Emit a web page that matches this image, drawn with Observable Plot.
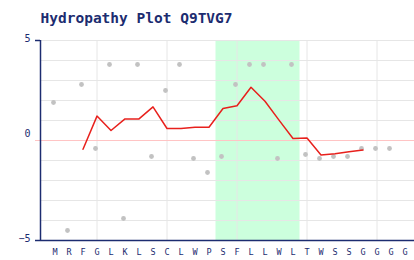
<!DOCTYPE html>
<html>
<head>
<meta charset="utf-8">
<script src="https://cdn.jsdelivr.net/npm/d3@7"></script>
<script src="https://cdn.jsdelivr.net/npm/@observablehq/plot@0.6"></script>
<style>
  html, body { margin: 0; padding: 0; background: #fff; }
</style>
</head>
<body>
<div id="chart"></div>
<script>
const title = "Hydropathy Plot Q9TVG7";
const residues = ["M","R","F","G","L","K","L","S","C","L","W","P","S","F","L","L","W","L","T","W","S","S","G","G","G","G"];
// per-residue hydropathy (grey dots), one per residue except the last
const hydropathy = [1.9,-4.5,2.8,-0.4,3.8,-3.9,3.8,-0.8,2.5,3.8,-0.9,-1.6,-0.8,2.8,3.8,3.8,-0.9,3.8,-0.7,-0.9,-0.8,-0.8,-0.4,-0.4,-0.4];
// window-averaged profile (red line), starting at residue index 2
const profileStart = 2;
const profile = [-0.44,1.22,0.5,1.08,1.08,1.68,0.6,0.6,0.66,0.66,1.6,1.74,2.66,1.96,1.02,0.1,0.12,-0.72,-0.66,-0.56,-0.48];
// highlighted segment (residue index range)
const bandStart = 11.5, bandEnd = 17.5;
const yTicks = [5, 0, -5];
const yGrid = [5,4,3,2,1,-1,-2,-3,-4];
const xGrid = [3,8,13,18,23];

const navy = "#1c2c70";
const xMin = -14.5/14, xMax = (414-54.5)/14;
const tickX1 = xMin - 5/14;

const dots = hydropathy.map((v,i)=>({i, v}));
const line = profile.map((v,k)=>({i: k+profileStart, v}));
const letters = residues.map((r,i)=>({i, r}));
const fmt = d => d < 0 ? "\u2212" + Math.abs(d) : String(d);
const tickFont = {textAnchor: "end", fill: navy, fontFamily: "DejaVu Sans Mono", fontSize: 10};

const plot = Plot.plot({
  width: 414, height: 260,
  marginLeft: 40, marginRight: 0, marginTop: 40, marginBottom: 20,
  x: {domain: [xMin, xMax], axis: null},
  y: {domain: [-5, 5], axis: null},
  style: {background: "#fff", overflow: "visible"},
  marks: [
    Plot.rect([{x1: bandStart, x2: bandEnd}], {x1: "x1", x2: "x2", y1: -5, y2: 5, fill: "#ccffdd"}),
    Plot.ruleY(yGrid, {x1: xMin, x2: xMax, stroke: "#e6e6e6", strokeWidth: 1}),
    Plot.ruleX(xGrid, {y1: -5, y2: 5, stroke: "#e6e6e6", strokeWidth: 1}),
    Plot.ruleY([0], {x1: tickX1, x2: xMax, stroke: "#ffc4c4", strokeWidth: 1}),
    Plot.dot(dots, {x: "i", y: "v", r: 2.4, fill: "#c2c2c2", stroke: null, dx: -1.5}),
    Plot.line(line, {x: "i", y: "v", stroke: "#e8201c", strokeWidth: 1.5, curve: "linear"}),
    Plot.ruleX([xMin], {y1: -5, y2: 5, stroke: navy, strokeWidth: 1.5}),
    Plot.ruleY([-5], {x1: xMin, x2: xMax, stroke: navy, strokeWidth: 1.5}),
    Plot.ruleY([yTicks[0], yTicks[2]], {x1: tickX1, x2: xMin, stroke: navy, strokeWidth: 1.5}),
    Plot.text([yTicks[0], yTicks[2]], {x: xMin, y: d => d, text: fmt, dx: -10, dy: -1.5, ...tickFont}),
    Plot.text([yTicks[1]], {x: xMin, y: d => d, text: fmt, dx: -10, dy: -6.5, ...tickFont}),
    Plot.text(letters, {x: "i", y: -5, text: "r", dy: 12, textAnchor: "middle", lineAnchor: "middle",
      fill: navy, fontFamily: "DejaVu Sans Mono", fontSize: 8.5}),
    Plot.text([title], {x: xMin, y: 5, text: d => d, dy: -22, textAnchor: "start", lineAnchor: "middle",
      fill: navy, fontFamily: "DejaVu Sans Mono", fontWeight: "bold", fontSize: 14.5})
  ]
});
document.getElementById("chart").appendChild(plot);
</script>
</body>
</html>
